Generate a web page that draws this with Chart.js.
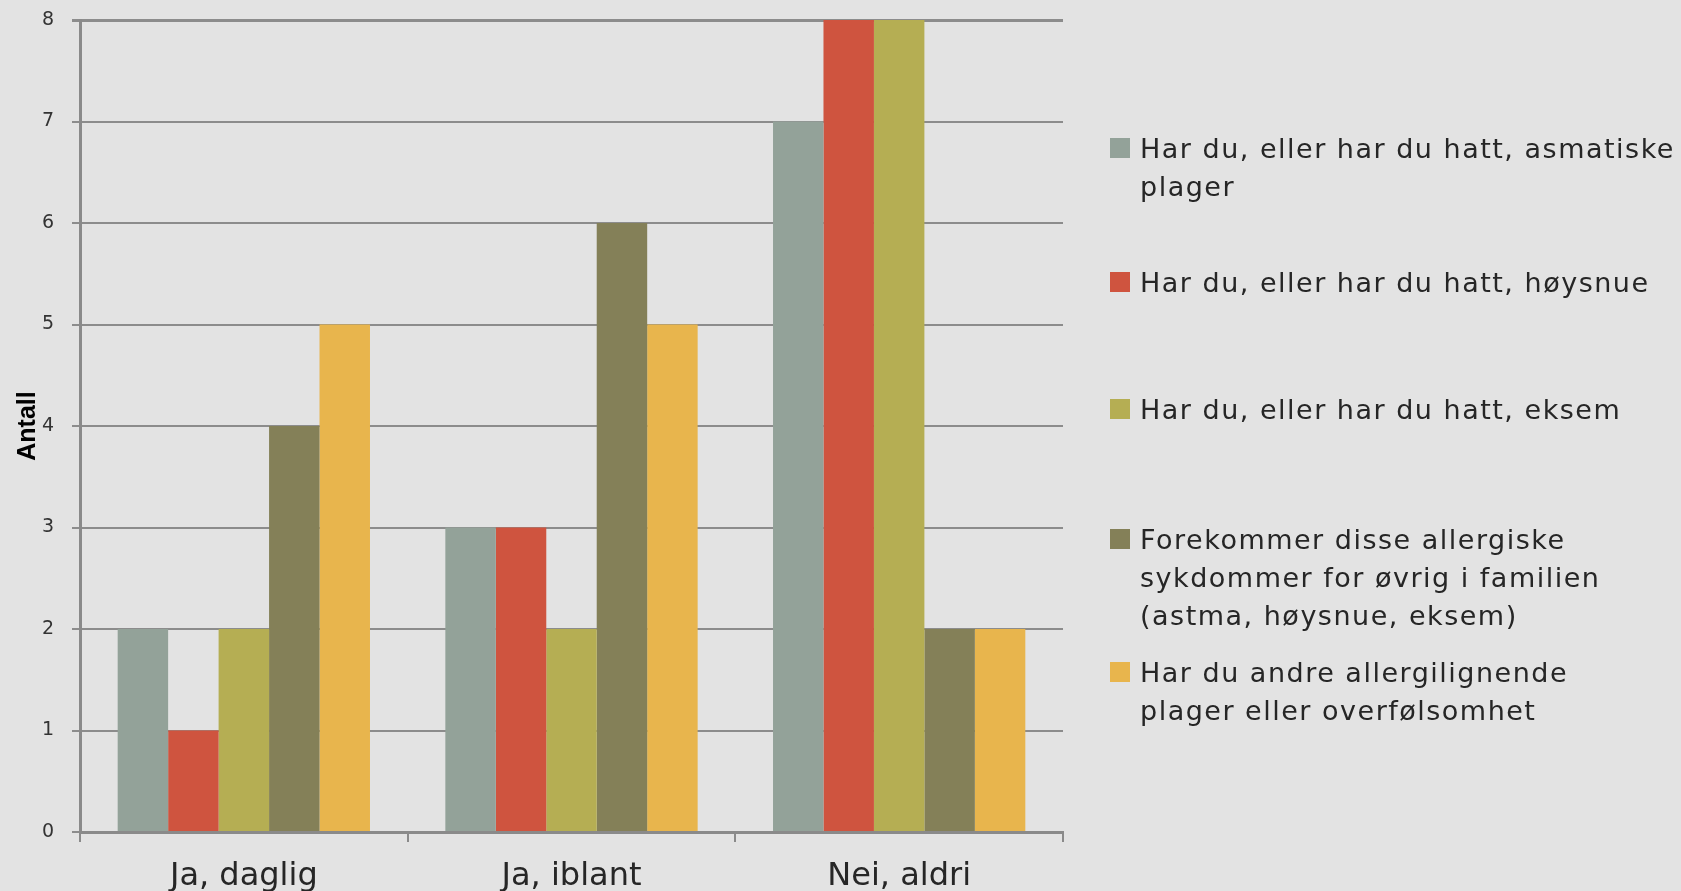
<!DOCTYPE html>
<html>
<head>
<meta charset="utf-8">
<script src="https://cdn.jsdelivr.net/npm/chart.js@4/dist/chart.umd.min.js"></script>
<style>
  html, body { margin: 0; padding: 0; background: #e3e3e3; }
  #wrap { position: relative; width: 1681px; height: 891px; overflow: hidden; }
  #chart { position: absolute; left: 0; top: 0; }
  .leg { position: absolute; left: 1110px; font-family: "DejaVu Sans", sans-serif; font-size: 27px;
         letter-spacing: 1.5px; line-height: 38px; color: #262626; white-space: nowrap; }
  .leg .box { position: absolute; left: 0; top: 8px; width: 20px; height: 20px; }
  .leg .txt { position: absolute; left: 30px; top: 0; }
</style>
</head>
<body>
<div id="wrap">
  <canvas id="chart" width="1681" height="891"></canvas>
</div>
<script>
document.addEventListener("DOMContentLoaded", function () {
    const categories = ["Ja, daglig", "Ja, iblant", "Nei, aldri"];
    const yTicks = [0, 1, 2, 3, 4, 5, 6, 7, 8];

    const seriesNames = [
        ["Har du, eller har du hatt, asmatiske", "plager"],
        ["Har du, eller har du hatt, høysnue"],
        ["Har du, eller har du hatt, eksem"],
        ["Forekommer disse allergiske", "sykdommer for øvrig i familien", "(astma, høysnue, eksem)"],
        ["Har du andre allergilignende", "plager eller overfølsomhet"]
    ];
    const asmatiske = [2, 3, 7];
    const hoysnue = [1, 3, 8];
    const eksem = [2, 2, 8];
    const familien = [4, 6, 2];
    const andre = [5, 5, 2];

    const colors = ["#93a299", "#cf543f", "#b5ae53", "#848058", "#e8b54d"];
    const series = [asmatiske, hoysnue, eksem, familien, andre];

    const ctx = document.getElementById("chart");

    new Chart(ctx, {
        type: "bar",
        data: {
            labels: categories,
            datasets: series.map(function (vals, i) {
                return {
                    label: seriesNames[i].join(" "),
                    data: vals,
                    backgroundColor: colors[i],
                    borderWidth: 0,
                    categoryPercentage: 0.77,
                    barPercentage: 1.0
                };
            })
        },
        options: {
            responsive: false,
            animation: false,
            layout: { padding: { top: 20, right: 618, left: 0, bottom: 0 } },
            scales: {
                x: {
                    grid: {
                        display: true,
                        drawOnChartArea: false,
                        drawTicks: true,
                        tickLength: 10,
                        color: "#8a8a8a",
                        lineWidth: 2
                    },
                    border: { color: "#8a8a8a", width: 3 },
                    ticks: {
                        color: "#262626",
                        padding: 15,
                        font: { family: "DejaVu Sans", size: 32 }
                    },
                    afterFit: function (scale) { scale.height = 59; }
                },
                y: {
                    min: 0,
                    max: 8,
                    afterBuildTicks: function (scale) {
                        scale.ticks = yTicks.map(function (v) { return { value: v }; });
                    },
                    grid: {
                        color: "#8c8c8c",
                        lineWidth: function (c) { return c.tick && c.tick.value === 8 ? 3 : 2; },
                        tickLength: 8
                    },
                    border: { color: "#8a8a8a", width: 3 },
                    ticks: {
                        color: "#333333",
                        padding: 18,
                        font: { family: "DejaVu Sans", size: 19 }
                    },
                    title: {
                        display: true,
                        text: "Antall",
                        color: "#000000",
                        padding: { top: 13, bottom: 0 },
                        font: { family: "Liberation Sans", size: 25, weight: "bold" }
                    },
                    afterFit: function (scale) {
                        scale.width = 80;
                        scale.paddingTop = 0;
                        scale.paddingBottom = 0;
                    }
                }
            },
            plugins: {
                legend: { display: false },
                tooltip: { enabled: false }
            }
        }
    });

    // legend drawn as html, one block per series
    const legendTops = [130, 264, 391, 521, 654];
    const wrap = document.getElementById("wrap");
    seriesNames.forEach(function (lines, i) {
        const item = document.createElement("div");
        item.className = "leg";
        item.style.top = legendTops[i] + "px";
        const box = document.createElement("div");
        box.className = "box";
        box.style.background = colors[i];
        const txt = document.createElement("div");
        txt.className = "txt";
        txt.innerHTML = lines.join("<br>");
        item.appendChild(box);
        item.appendChild(txt);
        wrap.appendChild(item);
    });
});
</script>
</body>
</html>
